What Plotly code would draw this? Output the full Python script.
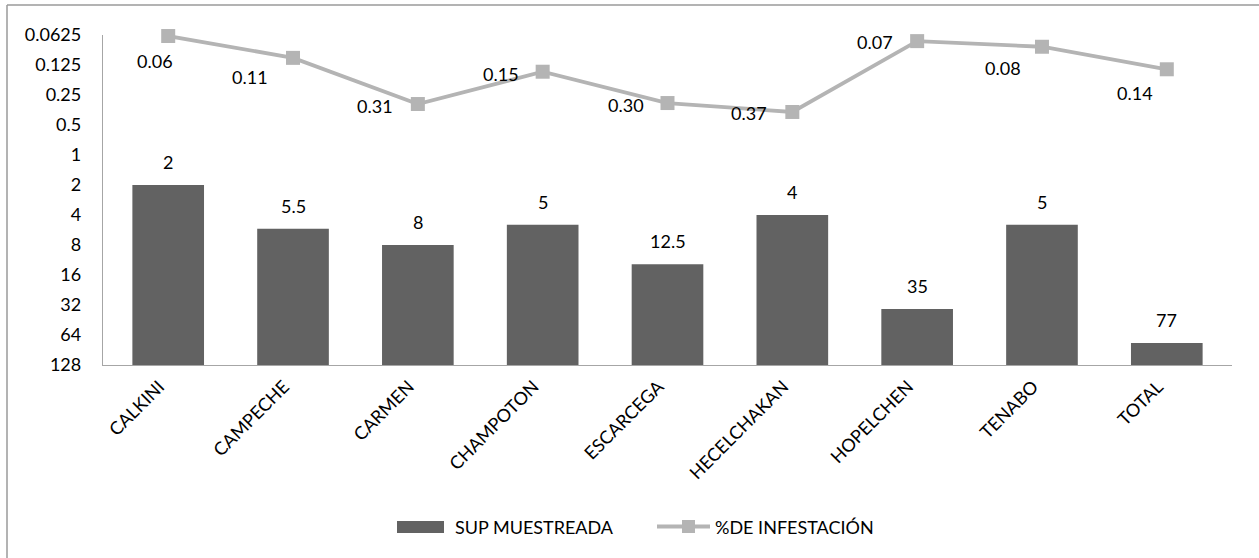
import math
import plotly.graph_objects as go

# ---------------- data ----------------
categories = ["CALKINI", "CAMPECHE", "CARMEN", "CHAMPOTON", "ESCARCEGA",
              "HECELCHAKAN", "HOPELCHEN", "TENABO", "TOTAL"]
sup_muestreada = [2, 5.5, 8, 5, 12.5, 4, 35, 5, 77]
pct_infestacion = [0.064, 0.106, 0.308, 0.146, 0.301, 0.37, 0.072, 0.082, 0.138]
y_tick_values = [0.0625, 0.125, 0.25, 0.5, 1, 2, 4, 8, 16, 32, 64, 128]
y_tick_labels = ["0.0625", "0.125", "0.25", "0.5", "1", "2", "4", "8", "16", "32", "64", "128"]
series_names = ["SUP MUESTREADA", "%DE INFESTACIÓN"]

# ---------------- style ----------------
W, H = 1259, 558
ML, MR, MT, MB = 103, 27, 35, 193
PW, PH = W - ML - MR, H - MT - MB
FONT = "Lato, 'Open Sans', sans-serif"
FS = 18
BAR_COLOR = "#626262"
LINE_COLOR = "#b4b4b4"
AXIS_COLOR = "#a6a6a6"
# label offsets (xshift, yshift) in px for the line labels
line_label_offsets = [(-13, -25), (-43, -19), (-43, -2), (-42, -2), (-42, -2),
                      (-43, -1), (-42, -1), (-39, -21), (-32, -24)]

axis_max = max(y_tick_values)
axis_min = min(y_tick_values)


def px(xp):
    return (xp - ML) / PW


def py(yp):
    return (MT + PH - yp) / PH


fig = go.Figure()
fig.add_trace(go.Bar(
    x=categories,
    y=[v - axis_max for v in sup_muestreada],
    base=axis_max,
    name=series_names[0],
    marker=dict(color=BAR_COLOR, line=dict(width=0)),
    width=0.574,
    hoverinfo="skip",
))
fig.add_trace(go.Scatter(
    x=categories,
    y=pct_infestacion,
    name=series_names[1],
    mode="lines+markers",
    line=dict(color=LINE_COLOR, width=3.8),
    marker=dict(symbol="square", size=14, color=LINE_COLOR),
    cliponaxis=False,
))

annotations = []
for c, v in zip(categories, sup_muestreada):
    annotations.append(dict(x=c, y=math.log10(v), xref="x", yref="y",
                            text=f"{v:g}", showarrow=False, yshift=23,
                            font=dict(family=FONT, size=FS, color="#000")))
for c, v, (dx, dy) in zip(categories, pct_infestacion, line_label_offsets):
    annotations.append(dict(x=c, y=math.log10(v), xref="x", yref="y",
                            text=f"{v:.2f}", showarrow=False, xshift=dx, yshift=dy,
                            font=dict(family=FONT, size=FS, color="#000")))

# custom legend
annotations.append(dict(x=px(453), y=py(527), xref="paper", yref="paper",
                        text=series_names[0], showarrow=False, xanchor="left",
                        yanchor="middle", font=dict(family=FONT, size=FS, color="#000")))
annotations.append(dict(x=px(713), y=py(527), xref="paper", yref="paper",
                        text=series_names[1], showarrow=False, xanchor="left",
                        yanchor="middle", font=dict(family=FONT, size=FS, color="#000")))

shapes = [
    # outer chart border (left and top visible)
    dict(type="line", xref="paper", yref="paper", x0=px(7), x1=px(7),
         y0=py(600), y1=py(5), line=dict(color="#9a9a9a", width=1.5)),
    dict(type="line", xref="paper", yref="paper", x0=px(7), x1=px(1300),
         y0=py(5), y1=py(5), line=dict(color="#9a9a9a", width=1.5)),
    # legend: bar swatch
    dict(type="rect", xref="paper", yref="paper", x0=px(397), x1=px(444),
         y0=py(533), y1=py(521), fillcolor=BAR_COLOR, line=dict(width=0)),
    # legend: line swatch
    dict(type="line", xref="paper", yref="paper", x0=px(657), x1=px(710),
         y0=py(526.5), y1=py(526.5), line=dict(color=LINE_COLOR, width=3.8)),
    dict(type="rect", xref="paper", yref="paper", x0=px(682), x1=px(695),
         y0=py(533), y1=py(520), fillcolor=LINE_COLOR, line=dict(width=0)),
]

fig.update_layout(
    width=W, height=H,
    margin=dict(l=ML, r=MR, t=MT, b=MB, pad=0),
    paper_bgcolor="white", plot_bgcolor="white",
    showlegend=False,
    font=dict(family=FONT, size=FS, color="#000"),
    bargap=0.426,
    annotations=annotations,
    shapes=shapes,
)
fig.update_xaxes(
    showgrid=False, showline=True, linecolor=AXIS_COLOR, linewidth=1.3,
    ticks="", tickangle=-45, tickfont=dict(family=FONT, size=FS, color="#000"),
    ticklabelstandoff=3, ticklabelshift=-9, zeroline=False,
)
fig.update_yaxes(
    type="log",
    range=[math.log10(axis_max), math.log10(axis_min)],
    tickvals=y_tick_values, ticktext=y_tick_labels,
    showgrid=False, showline=True, linecolor=AXIS_COLOR, linewidth=1.3,
    ticks="", tickfont=dict(family=FONT, size=FS, color="#000"),
    ticklabelstandoff=17, zeroline=False,
)

fig.write_html("out.html", config={"displayModeBar": False},
               post_script="document.body.style.margin='0';document.body.style.overflow='hidden';")
